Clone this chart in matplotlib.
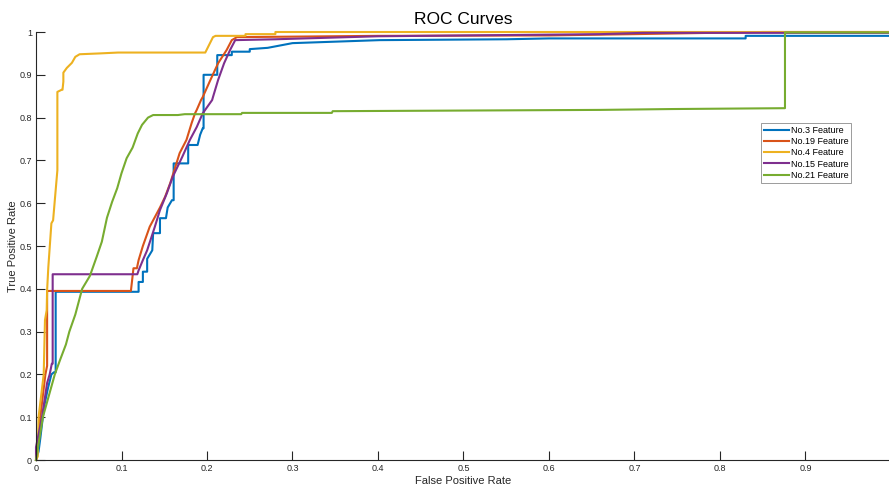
import matplotlib
matplotlib.use("Agg")
import matplotlib.pyplot as plt

plt.rcParams["font.family"] = ["Liberation Sans", "DejaVu Sans"]

# ROC points (FPR, TPR)
fpr_3 = [0, 0.003, 0.005, 0.008, 0.010, 0.014, 0.018, 0.021, 0.023, 0.023, 0.120, 0.120,
         0.125, 0.125, 0.130, 0.130, 0.136, 0.137, 0.145, 0.145, 0.152, 0.154, 0.159, 0.161,
         0.161, 0.178, 0.178, 0.189, 0.192, 0.195, 0.196, 0.196, 0.212, 0.212, 0.229, 0.229,
         0.250, 0.250, 0.271, 0.300, 0.402, 0.550, 0.600, 0.830, 0.830, 1.0]
tpr_3 = [0, 0.020, 0.050, 0.100, 0.130, 0.168, 0.200, 0.205, 0.205, 0.393, 0.393, 0.416,
         0.416, 0.440, 0.440, 0.470, 0.490, 0.530, 0.530, 0.565, 0.565, 0.590, 0.607, 0.607,
         0.693, 0.693, 0.736, 0.736, 0.760, 0.775, 0.775, 0.900, 0.900, 0.946, 0.946, 0.954,
         0.954, 0.960, 0.963, 0.974, 0.981, 0.983, 0.985, 0.985, 0.991, 0.991]

fpr_19 = [0, 0.002, 0.005, 0.008, 0.011, 0.013, 0.013, 0.111, 0.114, 0.118, 0.120, 0.125,
          0.133, 0.145, 0.151, 0.157, 0.163, 0.168, 0.176, 0.182, 0.186, 0.188, 0.193, 0.195,
          0.204, 0.213, 0.223, 0.229, 0.235, 0.400, 0.600, 0.700, 0.850, 1.0]
tpr_19 = [0, 0.030, 0.100, 0.150, 0.200, 0.220, 0.395, 0.395, 0.448, 0.448, 0.467, 0.500,
          0.545, 0.590, 0.615, 0.647, 0.685, 0.717, 0.748, 0.787, 0.810, 0.818, 0.841, 0.848,
          0.888, 0.927, 0.958, 0.981, 0.988, 0.991, 0.992, 0.995, 1.0, 1.0]

fpr_4 = [0, 0.002, 0.003, 0.006, 0.009, 0.0105, 0.0125, 0.013, 0.0144, 0.018, 0.020, 0.022,
         0.025, 0.025, 0.030, 0.031, 0.032, 0.032, 0.036, 0.042, 0.046, 0.051, 0.075, 0.096,
         0.198, 0.207, 0.210, 0.245, 0.245, 0.280, 0.280, 1.0]
tpr_4 = [0, 0.008, 0.100, 0.150, 0.200, 0.327, 0.350, 0.397, 0.450, 0.553, 0.560, 0.607,
         0.677, 0.860, 0.865, 0.865, 0.884, 0.905, 0.916, 0.928, 0.942, 0.948, 0.950, 0.952,
         0.952, 0.988, 0.991, 0.991, 0.995, 0.995, 1.0, 1.0]

fpr_15 = [0, 0, 0.004, 0.007, 0.010, 0.013, 0.016, 0.0185, 0.0195, 0.0195, 0.1185, 0.120,
          0.125, 0.130, 0.139, 0.145, 0.153, 0.160, 0.171, 0.180, 0.188, 0.195, 0.206, 0.207,
          0.213, 0.220, 0.227, 0.233, 0.280, 0.400, 0.660, 0.710, 1.0]
tpr_15 = [0, 0.030, 0.070, 0.100, 0.140, 0.180, 0.200, 0.225, 0.225, 0.434, 0.434, 0.443,
          0.467, 0.490, 0.545, 0.584, 0.623, 0.662, 0.708, 0.748, 0.778, 0.810, 0.841, 0.848,
          0.888, 0.927, 0.958, 0.981, 0.983, 0.990, 0.995, 0.998, 0.998]

fpr_21 = [0, 0.008, 0.015, 0.022, 0.028, 0.035, 0.039, 0.046, 0.054, 0.063, 0.071, 0.077,
          0.083, 0.089, 0.095, 0.100, 0.106, 0.113, 0.119, 0.124, 0.131, 0.137, 0.166, 0.174,
          0.240, 0.241, 0.346, 0.347, 0.660, 0.744, 0.876, 0.876, 1.0]
tpr_21 = [0, 0.100, 0.150, 0.200, 0.233, 0.270, 0.300, 0.340, 0.400, 0.430, 0.475, 0.510,
          0.566, 0.603, 0.635, 0.670, 0.705, 0.730, 0.763, 0.783, 0.800, 0.806, 0.806, 0.808,
          0.808, 0.811, 0.811, 0.815, 0.818, 0.820, 0.822, 0.999, 0.999]

labels = ["No.3 Feature", "No.19 Feature", "No.4 Feature", "No.15 Feature", "No.21 Feature"]
colors = ["#0072BD", "#D95319", "#EDB120", "#7E2F8E", "#77AC30"]
curves = [(fpr_3, tpr_3), (fpr_19, tpr_19), (fpr_4, tpr_4), (fpr_15, tpr_15), (fpr_21, tpr_21)]

fig = plt.figure(figsize=(8.89, 4.87), dpi=100)
ax = fig.add_axes([36 / 889, 27 / 487, 855 / 889, 428 / 487])

for (x, y), lab, col in zip(curves, labels, colors):
    ax.plot(x, y, color=col, lw=1.5, label=lab, clip_on=False)

ax.set_xlim(0, 1)
ax.set_ylim(0, 1)
ax.set_xticks([i / 10 for i in range(10)])
ax.set_xticklabels(["0"] + [f"{i / 10:g}" for i in range(1, 10)])
ax.set_yticks([i / 10 for i in range(11)])
ax.set_yticklabels(["0"] + [f"{i / 10:g}" for i in range(1, 11)])
ax.tick_params(direction="in", length=6.5, width=0.8, labelsize=6.5,
               labelcolor="#262626", color="#262626", pad=3)
for s in ("top", "right"):
    ax.spines[s].set_visible(False)
for s in ("left", "bottom"):
    ax.spines[s].set_color("#262626")
    ax.spines[s].set_linewidth(0.8)

ax.set_xlabel("False Positive Rate", fontsize=8, color="#262626", labelpad=2)
ax.set_ylabel("True Positive Rate", fontsize=8, color="#262626", labelpad=1)
ax.set_title("ROC Curves", fontsize=12.5, color="#000000", pad=6)

leg = ax.legend(loc="upper left", bbox_to_anchor=(0.848, 0.787), fontsize=6.5,
                frameon=True, fancybox=False, framealpha=1, edgecolor="#8c8c8c",
                handlelength=2.8, handletextpad=0.2, labelspacing=0.25,
                borderpad=0.3, borderaxespad=0)
leg.get_frame().set_linewidth(0.6)

fig.savefig("out.png", dpi=100)
